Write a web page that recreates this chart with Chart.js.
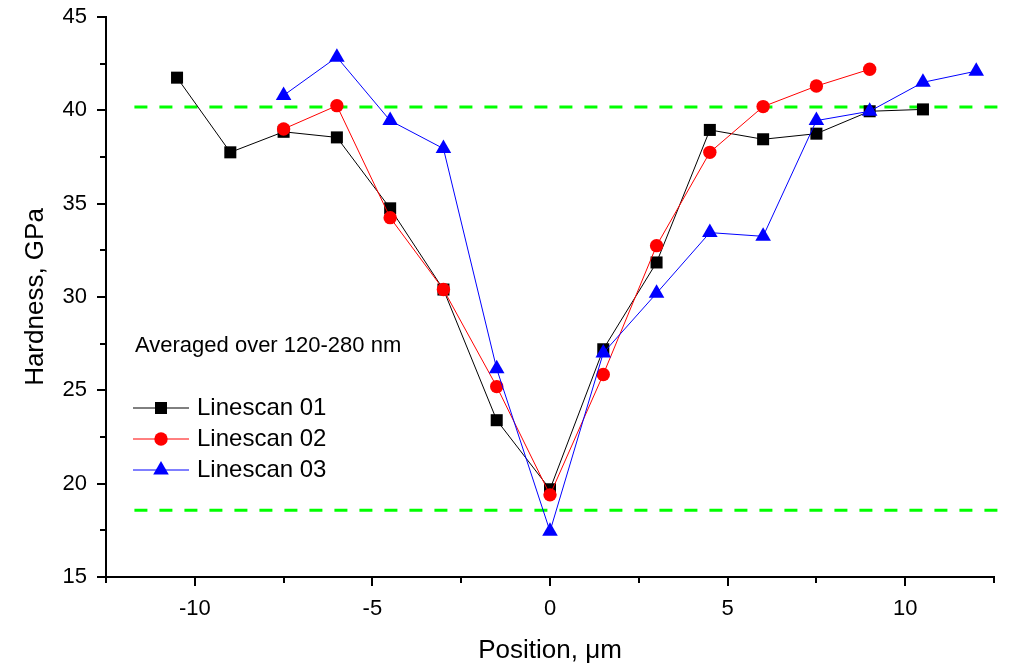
<!DOCTYPE html>
<html>
<head>
<meta charset="utf-8">
<script src="https://cdn.jsdelivr.net/npm/chart.js@4.4.1/dist/chart.umd.min.js"></script>
<style>
    body { margin: 0; background: #fff; }
    #wrap { width: 1012px; height: 668px; }
</style>
</head>
<body>
<div id="wrap"><canvas id="hardnessChart" width="1012" height="668"></canvas></div>
<script>
// Values
const positions01 = [-10.5, -9, -7.5, -6, -4.5, -3, -1.5, 0, 1.5, 3, 4.5, 6, 7.5, 9, 10.5];
const hardness01 = [41.75, 37.75, 38.85, 38.55, 34.75, 30.4, 23.4, 19.7, 27.2, 31.85, 38.95, 38.45, 38.75, 39.95, 40.05];

const positions02 = [-7.5, -6, -4.5, -3, -1.5, 0, 1.5, 3, 4.5, 6, 7.5, 9];
const hardness02 = [39.0, 40.25, 34.25, 30.4, 25.2, 19.4, 25.85, 32.75, 37.75, 40.2, 41.3, 42.2];

const positions03 = [-7.5, -6, -4.5, -3, -1.5, 0, 1.5, 3, 4.5, 6, 7.5, 9, 10.5, 12];
const hardness03 = [40.8, 42.85, 39.45, 37.95, 26.15, 17.45, 27.0, 30.2, 33.45, 33.25, 39.45, 39.95, 41.5, 42.1];

const seriesLabels = ['Linescan 01', 'Linescan 02', 'Linescan 03'];
const noteText = 'Averaged over 120-280 nm';

// tick labels
const xTickValues = [-10, -5, 0, 5, 10];
const yTickValues = [15, 20, 25, 30, 35, 40, 45];

// green dashed reference levels
const limitRange = [-11.7, 12.9];
const upperLimit = 40.18;
const lowerLimit = 18.57;

const FONT = '"Liberation Sans", Arial, sans-serif';

function toPoints(xs, ys) {
    return xs.map((x, i) => ({ x: x, y: ys[i] }));
}

document.addEventListener('DOMContentLoaded', function() {
    // major + minor ticks, pointing outward
    const axisTicks = {
        id: 'axisTicks',
        afterDraw(chart) {
            const ctx = chart.ctx;
            const xs = chart.scales.x;
            const ys = chart.scales.y;
            ctx.save();
            ctx.strokeStyle = '#000';
            ctx.lineWidth = 2;
            for (let v = xs.min; v <= xs.max + 1e-9; v += 2.5) {
                const px = Math.round(xs.getPixelForValue(v));
                const len = Math.abs(v % 5) < 1e-9 ? 9 : 6;
                ctx.beginPath();
                ctx.moveTo(px, xs.top);
                ctx.lineTo(px, xs.top + len);
                ctx.stroke();
            }
            for (let v = ys.min; v <= ys.max + 1e-9; v += 2.5) {
                const py = Math.round(ys.getPixelForValue(v));
                const len = Math.abs(v % 5) < 1e-9 ? 9 : 6;
                ctx.beginPath();
                ctx.moveTo(ys.right, py);
                ctx.lineTo(ys.right - len, py);
                ctx.stroke();
            }
            ctx.restore();
        }
    };

    // legend drawn inside the plot, like the original
    const insideLegend = {
        id: 'insideLegend',
        afterDatasetsDraw(chart) {
            const ctx = chart.ctx;
            const left = chart.chartArea.left + 27;
            ctx.save();
            ctx.fillStyle = '#000';
            ctx.textBaseline = 'middle';
            ctx.font = '22px ' + FONT;
            ctx.fillText(noteText, left + 2, 346);

            ctx.font = '24px ' + FONT;
            seriesLabels.forEach(function(label, i) {
                const ds = chart.data.datasets[i];
                const y = 408 + i * 31;
                ctx.strokeStyle = ds.borderColor;
                ctx.lineWidth = 1;
                ctx.beginPath();
                ctx.moveTo(left, y);
                ctx.lineTo(left + 56, y);
                ctx.stroke();
                ctx.fillStyle = ds.backgroundColor;
                Chart.helpers.drawPoint(ctx, {
                    pointStyle: ds.pointStyle,
                    radius: ds.pointRadius,
                    rotation: 0,
                    borderWidth: 0
                }, left + 28, y);
                ctx.fillStyle = '#000';
                ctx.fillText(label, left + 64, y);
            });
            ctx.restore();
        }
    };

    const chartCtx = document.getElementById('hardnessChart').getContext('2d');
    new Chart(chartCtx, {
        type: 'scatter',
        data: {
            datasets: [
                {
                    label: seriesLabels[0],
                    data: toPoints(positions01, hardness01),
                    showLine: true,
                    borderColor: '#000000',
                    backgroundColor: '#000000',
                    borderWidth: 1,
                    pointStyle: 'rect',
                    pointRadius: 8.5,
                    pointBorderWidth: 0,
                    order: 3
                },
                {
                    label: seriesLabels[1],
                    data: toPoints(positions02, hardness02),
                    showLine: true,
                    borderColor: '#ff0000',
                    backgroundColor: '#ff0000',
                    borderWidth: 1,
                    pointStyle: 'circle',
                    pointRadius: 6.7,
                    pointBorderWidth: 0,
                    order: 2
                },
                {
                    label: seriesLabels[2],
                    data: toPoints(positions03, hardness03),
                    showLine: true,
                    borderColor: '#0000ff',
                    backgroundColor: '#0000ff',
                    borderWidth: 1,
                    pointStyle: 'triangle',
                    pointRadius: 9,
                    pointBorderWidth: 0,
                    order: 1
                },
                {
                    label: 'upper',
                    data: toPoints(limitRange, [upperLimit, upperLimit]),
                    showLine: true,
                    borderColor: '#00ff00',
                    borderWidth: 3,
                    borderDash: [13, 12],
                    pointRadius: 0,
                    clip: false,
                    order: 4
                },
                {
                    label: 'lower',
                    data: toPoints(limitRange, [lowerLimit, lowerLimit]),
                    showLine: true,
                    borderColor: '#00ff00',
                    borderWidth: 3,
                    borderDash: [13, 12],
                    pointRadius: 0,
                    clip: false,
                    order: 5
                }
            ]
        },
        options: {
            responsive: false,
            animation: false,
            layout: {
                padding: { top: 17, right: 18, left: 0, bottom: 0 }
            },
            plugins: {
                legend: { display: false },
                tooltip: { enabled: false }
            },
            scales: {
                x: {
                    type: 'linear',
                    min: -12.5,
                    max: 12.5,
                    border: { color: '#000', width: 2 },
                    grid: { display: false, drawTicks: false },
                    afterBuildTicks: function(scale) {
                        scale.ticks = xTickValues.map(v => ({ value: v }));
                    },
                    ticks: {
                        color: '#000',
                        padding: 19,
                        maxRotation: 0,
                        font: { family: FONT, size: 22 }
                    },
                    title: {
                        display: true,
                        text: 'Position, μm',
                        color: '#000',
                        font: { family: FONT, size: 26 },
                        padding: { top: 0, bottom: 2 }
                    },
                    afterFit: function(scale) {
                        scale.height = 91;
                        scale.paddingLeft = 0;
                        scale.paddingRight = 0;
                    }
                },
                y: {
                    min: 15,
                    max: 45,
                    border: { color: '#000', width: 2 },
                    grid: { display: false, drawTicks: false },
                    afterBuildTicks: function(scale) {
                        scale.ticks = yTickValues.map(v => ({ value: v }));
                    },
                    ticks: {
                        color: '#000',
                        padding: 19,
                        font: { family: FONT, size: 22 }
                    },
                    title: {
                        display: true,
                        text: 'Hardness, GPa',
                        color: '#000',
                        font: { family: FONT, size: 26 },
                        padding: { top: 20, bottom: 0 }
                    },
                    afterFit: function(scale) {
                        scale.width = 106;
                        scale.paddingTop = 0;
                        scale.paddingBottom = 0;
                    }
                }
            }
        },
        plugins: [axisTicks, insideLegend]
    });
});
</script>
</body>
</html>
